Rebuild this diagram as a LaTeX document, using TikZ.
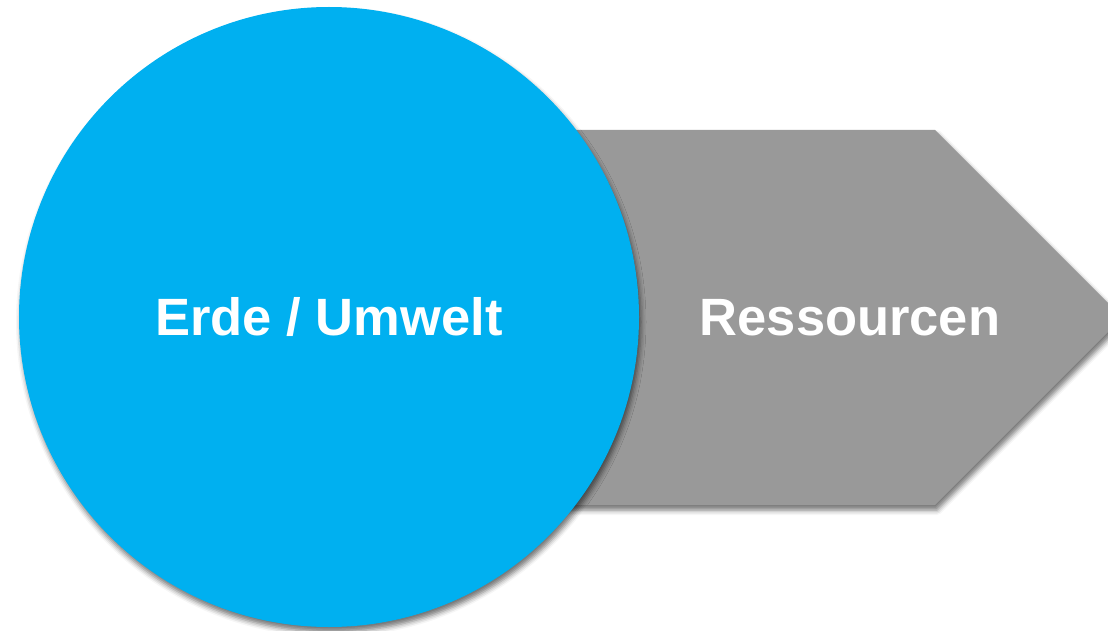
\documentclass[tikz,border=0pt]{standalone}
\usepackage{fontspec}
\setmainfont{Liberation Sans}
\usetikzlibrary{shadows.blur}
\definecolor{earthblue}{RGB}{0,176,240}
\definecolor{resgray}{RGB}{153,153,153}
\tikzset{
  softshadow/.style={blur shadow={shadow xshift=2pt, shadow yshift=-5pt, shadow blur radius=5pt, shadow opacity=55}},
  label/.style={text=white, font=\fontsize{52.5}{62}\selectfont\bfseries, anchor=base, inner sep=0pt}
}
\begin{document}
\begin{tikzpicture}[x=1pt,y=-1pt]
\useasboundingbox (0,0) rectangle (1108,631);
\clip (0,0) rectangle (1108,631);
\fill[resgray, softshadow] (540,130) -- (935,130) -- (1122.5,317.5) -- (935,505) -- (540,505) -- cycle;
\node[circle, fill=earthblue, minimum size=620pt, inner sep=0pt, softshadow] (earth) at (329,317) {};
\node[label] (erde) at (329,335) {Erde / Umwelt};
\node[label] (res) at (850,335) {Ressourcen};
\end{tikzpicture}
\end{document}
